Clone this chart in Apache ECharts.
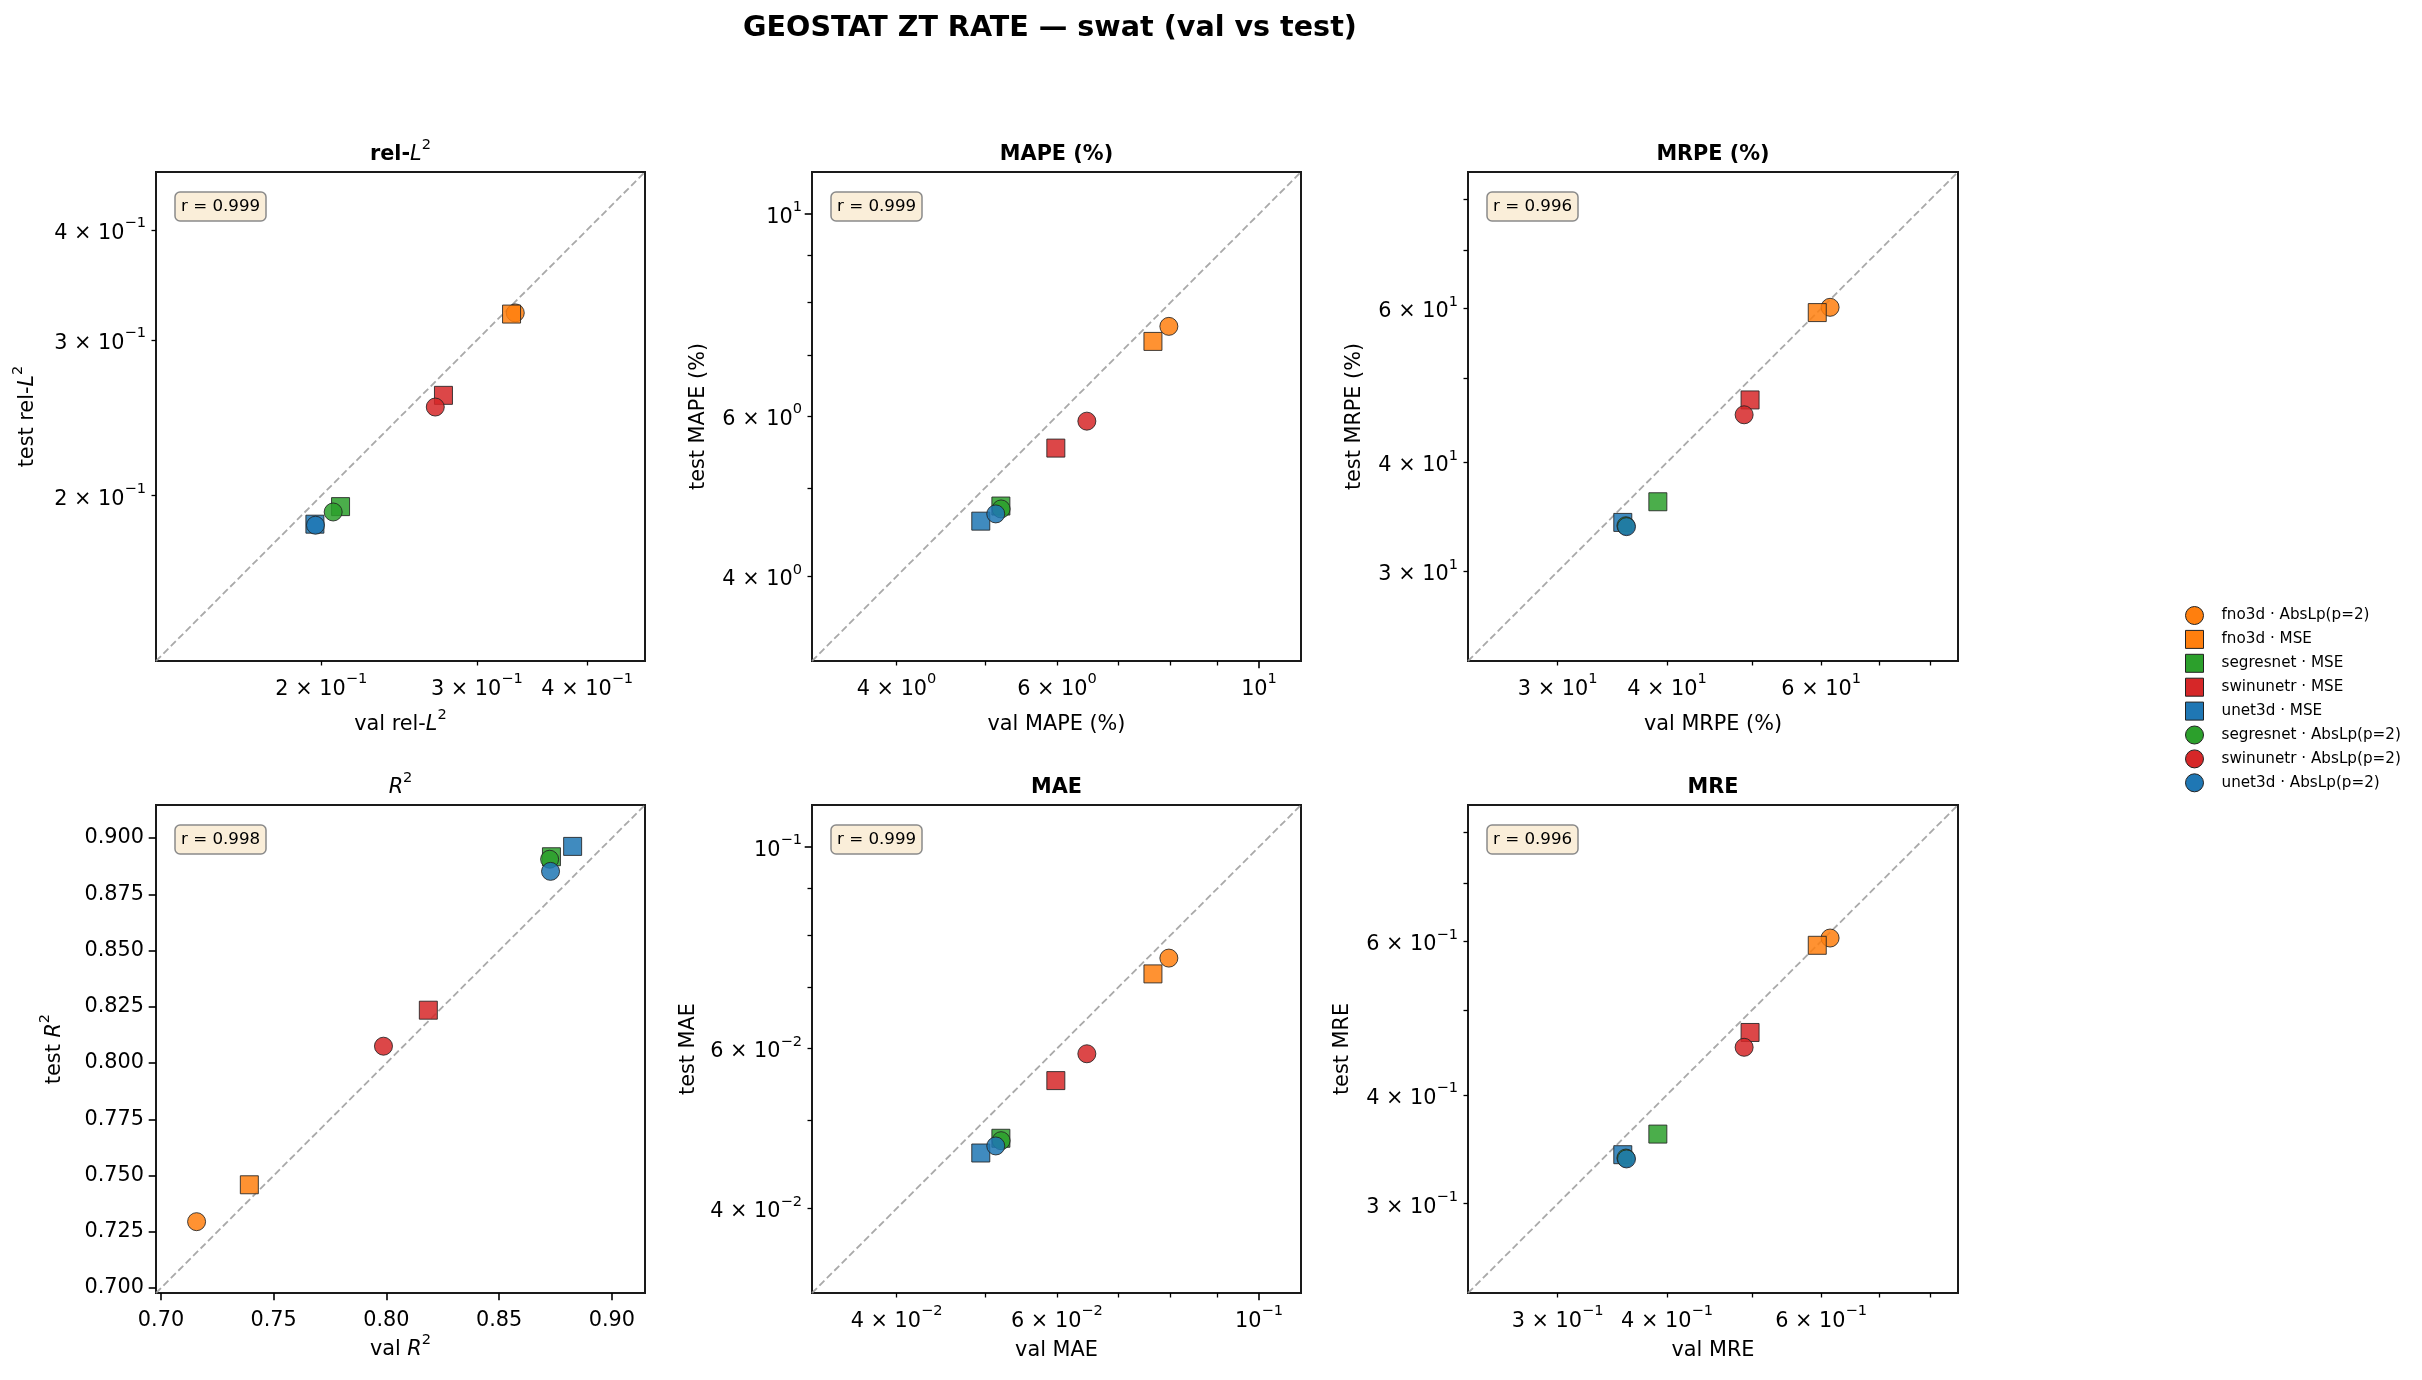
<!DOCTYPE html>
<html><head><meta charset="utf-8">
<script src="https://cdn.jsdelivr.net/npm/echarts@6/dist/echarts.min.js"></script>
<style>html,body{margin:0;padding:0;background:#fff;}#c{width:2422px;height:1380px;}</style>
</head><body><div id="c"></div>
<script>
// ---------- data ----------
const models = ['fno3d · AbsLp(p=2)', 'fno3d · MSE', 'segresnet · MSE', 'swinunetr · MSE', 'unet3d · MSE', 'segresnet · AbsLp(p=2)', 'swinunetr · AbsLp(p=2)', 'unet3d · AbsLp(p=2)'];
const modelColors = ['#ff7f0e', '#ff7f0e', '#2ca02c', '#d62728', '#1f77b4', '#2ca02c', '#d62728', '#1f77b4'];
const modelSymbols = ['circle', 'rect', 'rect', 'rect', 'rect', 'circle', 'circle', 'circle'];

const relL2Val  = [0.3316, 0.3284, 0.2103, 0.2750, 0.1967, 0.2063, 0.2692, 0.1970];
const relL2Test = [0.3221, 0.3211, 0.1944, 0.2598, 0.1857, 0.1917, 0.2520, 0.1852];
const mapeVal   = [7.962, 7.648, 5.207, 5.983, 4.949, 5.210, 6.471, 5.140];
const mapeTest  = [7.527, 7.246, 4.779, 5.533, 4.600, 4.744, 5.923, 4.685];
const mrpeVal   = [61.43, 59.39, 39.05, 49.77, 35.61, 35.90, 49.00, 35.96];
const mrpeTest  = [60.20, 59.37, 36.06, 47.16, 34.15, 33.85, 45.35, 33.77];
const r2Val     = [0.7158, 0.7392, 0.8732, 0.8186, 0.8826, 0.8724, 0.7987, 0.8728];
const r2Test    = [0.7295, 0.7459, 0.8917, 0.8235, 0.8963, 0.8906, 0.8075, 0.8852];
const maeVal    = [0.07962, 0.07648, 0.05207, 0.05983, 0.04949, 0.05210, 0.06471, 0.05140];
const maeTest   = [0.07545, 0.07249, 0.04780, 0.05532, 0.04605, 0.04751, 0.05921, 0.04688];
const mreVal    = [0.6143, 0.5939, 0.3905, 0.4977, 0.3561, 0.3590, 0.4900, 0.3596];
const mreTest   = [0.6052, 0.5937, 0.3606, 0.4716, 0.3415, 0.3385, 0.4535, 0.3377];

const rValues = ['0.999', '0.999', '0.996', '0.998', '0.999', '0.996'];

// axis ranges
const relL2Range = [0.130, 0.465];
const mapeRange  = [3.23, 11.12];
const mrpeRange  = [23.7, 86.0];
const r2Range    = [0.6978, 0.9147];
const maeRange   = [0.0323, 0.1112];
const mreRange   = [0.237, 0.860];

// ticks
const relL2MinorTicks = [0.2, 0.3, 0.4];
const relL2MajorTicks = [];
const relL2LabelTicks = [0.2, 0.3, 0.4];
const relL2TickLabels = ['2 × 10^−1', '3 × 10^−1', '4 × 10^−1'];
const mapeMinorTicks = [4, 5, 6, 7, 8, 9];
const mapeMajorTicks = [10];
const mapeLabelTicks = [4, 6, 10];
const mapeTickLabels = ['4 × 10^0', '6 × 10^0', '10^1'];
const mrpeMinorTicks = [30, 40, 50, 60, 70, 80];
const mrpeMajorTicks = [];
const mrpeLabelTicks = [30, 40, 60];
const mrpeTickLabels = ['3 × 10^1', '4 × 10^1', '6 × 10^1'];
const maeMinorTicks = [0.04, 0.05, 0.06, 0.07, 0.08, 0.09];
const maeMajorTicks = [0.1];
const maeLabelTicks = [0.04, 0.06, 0.1];
const maeTickLabels = ['4 × 10^−2', '6 × 10^−2', '10^−1'];
const mreMinorTicks = [0.3, 0.4, 0.5, 0.6, 0.7, 0.8];
const mreMajorTicks = [];
const mreLabelTicks = [0.3, 0.4, 0.6];
const mreTickLabels = ['3 × 10^−1', '4 × 10^−1', '6 × 10^−1'];
const r2XTicks = [0.70, 0.75, 0.80, 0.85, 0.90];
const r2XTickLabels = ['0.70', '0.75', '0.80', '0.85', '0.90'];
const r2YTicks = [0.700, 0.725, 0.750, 0.775, 0.800, 0.825, 0.850, 0.875, 0.900];
const r2YTickLabels = ['0.700', '0.725', '0.750', '0.775', '0.800', '0.825', '0.850', '0.875', '0.900'];

// ---------- layout ----------
const FONT = 'DejaVu Sans';
const gridLefts = [156, 812, 1468];
const gridTops = [172, 805];
const gridW = [489, 489, 490];
const gridH = [489, 488];

const panels = [
  {title: '{b|rel-}{bi|L}{bs|2}', xName: '{n|val rel-}{i|L}{s|2}', yName: '{n|test rel-}{i|L}{s|2}', type: 'log', val: relL2Val, test: relL2Test, range: relL2Range, minor: relL2MinorTicks, major: relL2MajorTicks, lt: relL2LabelTicks, ll: relL2TickLabels, xGap: 47, yGap: 118},
  {title: '{b|MAPE (%)}', xName: '{n|val MAPE (%)}', yName: '{n|test MAPE (%)}', type: 'log', val: mapeVal, test: mapeTest, range: mapeRange, minor: mapeMinorTicks, major: mapeMajorTicks, lt: mapeLabelTicks, ll: mapeTickLabels, xGap: 47, yGap: 103},
  {title: '{b|MRPE (%)}', xName: '{n|val MRPE (%)}', yName: '{n|test MRPE (%)}', type: 'log', val: mrpeVal, test: mrpeTest, range: mrpeRange, minor: mrpeMinorTicks, major: mrpeMajorTicks, lt: mrpeLabelTicks, ll: mrpeTickLabels, xGap: 47, yGap: 103},
  {title: '{i|R}{s|2}', xName: '{n|val }{i|R}{s|2}', yName: '{n|test }{i|R}{s|2}', type: 'value', val: r2Val, test: r2Test, range: r2Range, xGap: 40, yGap: 91},
  {title: '{b|MAE}', xName: '{n|val MAE}', yName: '{n|test MAE}', type: 'log', val: maeVal, test: maeTest, range: maeRange, minor: maeMinorTicks, major: maeMajorTicks, lt: maeLabelTicks, ll: maeTickLabels, xGap: 41, yGap: 113},
  {title: '{b|MRE}', xName: '{n|val MRE}', yName: '{n|test MRE}', type: 'log', val: mreVal, test: mreTest, range: mreRange, minor: mreMinorTicks, major: mreMajorTicks, lt: mreLabelTicks, ll: mreTickLabels, xGap: 41, yGap: 115}
];

const TICK_FS = 20.8;
const tickRich = {
  m: {fontSize: TICK_FS, fontFamily: FONT, color: '#000', padding: [7, 0, 0, 0], verticalAlign: 'bottom'},
  e: {fontSize: 14.6, fontFamily: FONT, color: '#000', verticalAlign: 'top'}
};
const nameRich = {
  n: {fontSize: 20.8, fontFamily: FONT, fontWeight: 'normal', color: '#000', verticalAlign: 'bottom', padding: [6, 0, 0, 0]},
  i: {fontSize: 20.8, fontFamily: FONT, fontWeight: 'normal', fontStyle: 'italic', color: '#000', verticalAlign: 'bottom', padding: [6, 0, 0, 0]},
  s: {fontSize: 14.6, fontFamily: FONT, fontWeight: 'normal', color: '#000', verticalAlign: 'top'}
};
const titleRich = {
  b: {fontSize: 20.8, fontFamily: FONT, fontWeight: 'bold', color: '#000', verticalAlign: 'bottom', padding: [6, 0, 0, 0]},
  bi: {fontSize: 20.8, fontFamily: FONT, fontWeight: 'normal', fontStyle: 'italic', color: '#000', verticalAlign: 'bottom', padding: [6, 0, 0, 0]},
  bs: {fontSize: 14.6, fontFamily: FONT, fontWeight: 'normal', color: '#000', verticalAlign: 'top'},
  i: {fontSize: 20.8, fontFamily: FONT, fontWeight: 'normal', fontStyle: 'italic', color: '#000', verticalAlign: 'bottom', padding: [6, 0, 0, 0]},
  s: {fontSize: 14.6, fontFamily: FONT, fontWeight: 'normal', color: '#000', verticalAlign: 'top'}
};

function toRich(lbl) {
  const parts = lbl.split('^');
  if (parts.length === 1) return '{m|' + lbl + '}';
  return '{m|' + parts[0] + '}{e|' + parts[1] + '}';
}
function makeLogFormatter(ticks, labels) {
  return function (v) {
    for (let k = 0; k < ticks.length; k++) {
      if (Math.abs(v - ticks[k]) < ticks[k] * 1e-6) return toRich(labels[k]);
    }
    return '';
  };
}
function makeLinFormatter(ticks, labels) {
  return function (v) {
    for (let k = 0; k < ticks.length; k++) {
      if (Math.abs(v - ticks[k]) < 1e-6) return labels[k];
    }
    return '';
  };
}

const grids = [], xAxes = [], yAxes = [], series = [], titles = [];

titles.push({
  text: 'GEOSTAT ZT RATE — swat (val vs test)', left: 1050, top: 14, textAlign: 'center', padding: 0,
  textStyle: {fontSize: 28.6, fontWeight: 'bold', fontFamily: FONT, color: '#000'}
});

panels.forEach(function (p, i) {
  const col = i % 3, row = Math.floor(i / 3);
  const gl = gridLefts[col], gt = gridTops[row], gw = gridW[col], gh = gridH[row];
  grids.push({left: gl, top: gt, width: gw, height: gh, show: true, borderColor: '#1a1a1a', borderWidth: 2, backgroundColor: 'transparent', containLabel: false});

  titles.push({
    text: p.title, left: gl + gw / 2, top: gt - 34, textAlign: 'center', padding: 0,
    textStyle: {fontSize: 20.8, fontWeight: 'normal', fontFamily: FONT, color: '#000', rich: titleRich}
  });
  titles.push({
    text: 'r = ' + rValues[i], left: gl + 19, top: gt + 20, padding: [5, 6, 5, 6],
    backgroundColor: '#faeed9', borderColor: '#8a8a8a', borderWidth: 1.5, borderRadius: 5,
    textStyle: {fontSize: 16.7, fontWeight: 'normal', fontFamily: FONT, color: '#000', lineHeight: 19}
  });

  const xi = xAxes.length, yi = yAxes.length;
  const common = {
    gridIndex: i, min: p.range[0], max: p.range[1],
    axisLine: {show: false}, splitLine: {show: false}, minorTick: {show: false}, minorSplitLine: {show: false},
    nameLocation: 'middle'
  };
  if (p.type === 'log') {
    const fmt = makeLogFormatter(p.lt, p.ll);
    const tickCfg = {show: true, inside: false, length: 4.5, customValues: p.minor, lineStyle: {color: '#000', width: 1.3}};
    xAxes.push(Object.assign({}, common, {
      type: 'log', logBase: 10, position: 'bottom',
      axisTick: tickCfg,
      axisLabel: {show: true, customValues: p.lt, formatter: fmt, margin: 11, rich: tickRich, fontFamily: FONT, fontSize: TICK_FS, color: '#000'},
      name: p.xName, nameGap: p.xGap, nameTextStyle: {rich: nameRich, fontSize: 20.8, fontFamily: FONT, color: '#000'}
    }));
    yAxes.push(Object.assign({}, common, {
      type: 'log', logBase: 10, position: 'left',
      axisTick: tickCfg,
      axisLabel: {show: true, customValues: p.lt, formatter: fmt, margin: 10, rich: tickRich, fontFamily: FONT, fontSize: TICK_FS, color: '#000'},
      name: p.yName, nameGap: p.yGap, nameTextStyle: {rich: nameRich, fontSize: 20.8, fontFamily: FONT, color: '#000'}
    }));
    if (p.major.length) {
      const majCfg = {show: true, inside: false, length: 7.3, customValues: p.major, lineStyle: {color: '#000', width: 1.6}};
      xAxes.push(Object.assign({}, common, {type: 'log', logBase: 10, position: 'bottom', offset: 0, axisTick: majCfg, axisLabel: {show: false}}));
      yAxes.push(Object.assign({}, common, {type: 'log', logBase: 10, position: 'left', offset: 0, axisTick: majCfg, axisLabel: {show: false}}));
    }
  } else {
    xAxes.push(Object.assign({}, common, {
      type: 'value', position: 'bottom',
      axisTick: {show: true, inside: false, length: 7.3, customValues: r2XTicks, lineStyle: {color: '#000', width: 1.6}},
      axisLabel: {show: true, customValues: r2XTicks, formatter: makeLinFormatter(r2XTicks, r2XTickLabels), margin: 17, fontFamily: FONT, fontSize: TICK_FS, color: '#000'},
      name: p.xName, nameGap: p.xGap, nameTextStyle: {rich: nameRich, fontSize: 20.8, fontFamily: FONT, color: '#000'}
    }));
    yAxes.push(Object.assign({}, common, {
      type: 'value', position: 'left',
      axisTick: {show: true, inside: false, length: 7.3, customValues: r2YTicks, lineStyle: {color: '#000', width: 1.6}},
      axisLabel: {show: true, customValues: r2YTicks, formatter: makeLinFormatter(r2YTicks, r2YTickLabels), margin: 12, fontFamily: FONT, fontSize: TICK_FS, color: '#000'},
      name: p.yName, nameGap: p.yGap, nameTextStyle: {rich: nameRich, fontSize: 20.8, fontFamily: FONT, color: '#000'}
    }));
  }

  // identity line
  series.push({
    type: 'line', xAxisIndex: xi, yAxisIndex: yi, data: [[p.range[0], p.range[0]], [p.range[1], p.range[1]]],
    symbol: 'none', silent: true, z: 1, animation: false,
    lineStyle: {color: '#9a9a9a', opacity: 0.85, width: 1.8, type: [7, 3.5]}
  });
  models.forEach(function (m, k) {
    series.push({
      type: 'scatter', name: m, xAxisIndex: xi, yAxisIndex: yi,
      data: [[p.val[k], p.test[k]]], symbol: modelSymbols[k], symbolSize: 18, z: 2,
      itemStyle: {color: modelColors[k], borderColor: '#222', borderWidth: 1, opacity: 0.85},
      emphasis: {disabled: true}, animation: false
    });
  });
});

const chart = echarts.init(document.getElementById('c'), null, {renderer: 'canvas'});
chart.setOption({
  backgroundColor: '#fff',
  animation: false,
  title: titles,
  grid: grids,
  xAxis: xAxes,
  yAxis: yAxes,
  legend: {
    orient: 'vertical', left: 2180, top: 601, itemWidth: 18, itemHeight: 18, itemGap: 4.9,
    data: models.map(function (m, k) { return {name: m, icon: modelSymbols[k]}; }),
    itemStyle: {opacity: 1, borderColor: '#222', borderWidth: 1},
    textStyle: {fontSize: 15.2, fontFamily: FONT, color: '#000', lineHeight: 18, padding: [0, 0, 0, 13]},
    selectedMode: false
  },
  series: series
});
</script></body></html>
